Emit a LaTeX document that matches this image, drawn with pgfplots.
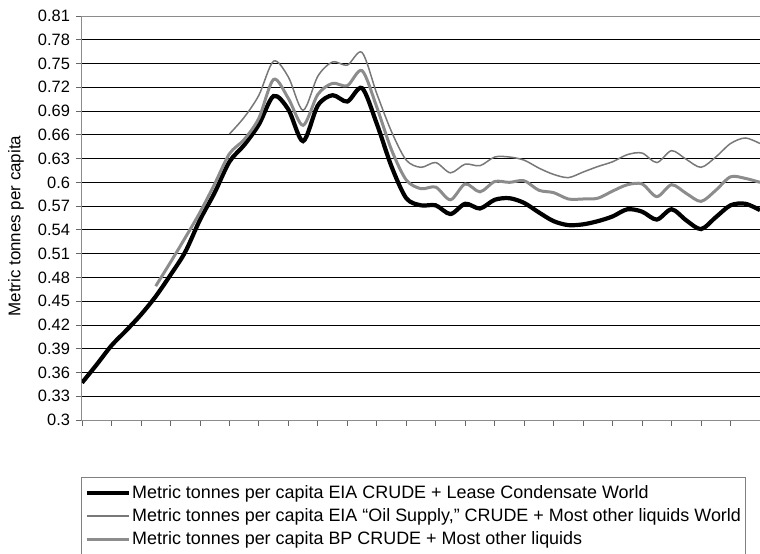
\documentclass[border=0pt]{standalone}
\usepackage{pgfplots}
\pgfplotsset{compat=1.18}
\usepackage{fontspec}
\setmainfont{Liberation Sans}
\definecolor{thingray}{RGB}{120,120,120}
\definecolor{bpgray}{RGB}{140,140,140}
\begin{document}
\begin{tikzpicture}
\begin{axis}[
  scale only axis,
  width=678bp, height=404bp,
  xmin=0, xmax=23, ymin=0.3, ymax=0.81,
  xtick={0,...,23}, xticklabels={},
  ytick={0.3,0.33,0.36,0.39,0.42,0.45,0.48,0.51,0.54,0.57,0.6,0.63,0.66,0.69,0.72,0.75,0.78,0.81},
  yticklabels={0.3,0.33,0.36,0.39,0.42,0.45,0.48,0.51,0.54,0.57,0.6,0.63,0.66,0.69,0.72,0.75,0.78,0.81},
  tick pos=left,
  tick align=outside, major tick length=5.5bp,
  tick style={gray!80!black, line width=0.8bp},
  axis line style={gray!90, line width=1bp},
  ymajorgrids, grid style={black, line width=0.8bp},
  yticklabel style={font=\fontsize{16.5}{18}\selectfont, xshift=-3bp},
  ylabel={Metric tonnes per capita},
  every axis y label/.style={at={(axis description cs:-0.0973,0.48)}, rotate=90, anchor=center, font=\fontsize{17}{19}\selectfont},
  legend cell align=left,
  legend image code/.code={\draw[#1] (0bp,0bp) -- (42bp,0bp);},
  legend style={at={(axis description cs:0,0)}, anchor=north west, xshift=-1bp, yshift=-57bp,
     draw=gray, line width=1bp, font=\fontsize{18}{20}\selectfont,
     inner xsep=3bp, inner ysep=7bp, row sep=5.5bp, nodes={inner sep=1.5bp}},
]
\addplot[black, line width=4.2bp, smooth] coordinates {
(0,0.347)(0.5,0.370)(1,0.394)(1.5,0.413)(2,0.433)(2.5,0.456)(3,0.483)(3.5,0.512)
(4,0.5525)(4.5,0.587)(5,0.626)(5.5,0.647)(6,0.673)(6.5,0.709)(7,0.692)(7.5,0.652)
(8,0.697)(8.5,0.710)(9,0.702)(9.5,0.719)(10,0.674)(10.5,0.620)(11,0.580)(11.5,0.571)
(12,0.571)(12.5,0.560)(13,0.573)(13.5,0.567)(14,0.578)(14.5,0.580)(15,0.574)(15.5,0.562)
(16,0.551)(16.5,0.546)(17,0.547)(17.5,0.551)(18,0.557)(18.5,0.566)(19,0.563)(19.5,0.553)
(20,0.566)(20.5,0.552)(21,0.541)(21.5,0.556)(22,0.571)(22.5,0.573)(23,0.565)};
\addlegendentry{Metric tonnes per capita EIA CRUDE + Lease Condensate World}
\addplot[thingray, line width=1.5bp, smooth] coordinates {
(5,0.661)(5.5,0.682)(6,0.710)(6.5,0.753)(7,0.733)(7.5,0.691)(8,0.734)(8.5,0.752)
(9,0.748)(9.5,0.764)(10,0.712)(10.5,0.664)(11,0.628)(11.5,0.619)(12,0.625)(12.5,0.612)
(13,0.623)(13.5,0.621)(14,0.632)(14.5,0.632)(15,0.628)(15.5,0.618)(16,0.610)(16.5,0.606)
(17,0.613)(17.5,0.620)(18,0.626)(18.5,0.635)(19,0.637)(19.5,0.625)(20,0.640)(20.5,0.629)
(21,0.619)(21.5,0.632)(22,0.649)(22.5,0.656)(23,0.649)};
\addlegendentry{Metric tonnes per capita EIA “Oil Supply,” CRUDE + Most other liquids World}
\addplot[bpgray, line width=3bp, smooth] coordinates {
(2.5,0.469)(3,0.499)(3.5,0.530)(4,0.562)(4.5,0.598)(5,0.636)(5.5,0.654)(6,0.681)
(6.5,0.730)(7,0.706)(7.5,0.672)(8,0.711)(8.5,0.725)(9,0.722)(9.5,0.741)(10,0.695)
(10.5,0.641)(11,0.603)(11.5,0.592)(12,0.594)(12.5,0.578)(13,0.598)(13.5,0.588)(14,0.601)
(14.5,0.600)(15,0.602)(15.5,0.590)(16,0.587)(16.5,0.579)(17,0.579)(17.5,0.580)(18,0.589)
(18.5,0.597)(19,0.598)(19.5,0.582)(20,0.597)(20.5,0.586)(21,0.576)(21.5,0.590)(22,0.607)
(22.5,0.605)(23,0.600)};
\addlegendentry{Metric tonnes per capita BP CRUDE + Most other liquids}
\end{axis}
\pgfresetboundingbox
\path[use as bounding box] ([xshift=-82bp,yshift=-134bp]current axis.south west) rectangle ([yshift=16bp]current axis.north east);
\end{tikzpicture}
\end{document}
